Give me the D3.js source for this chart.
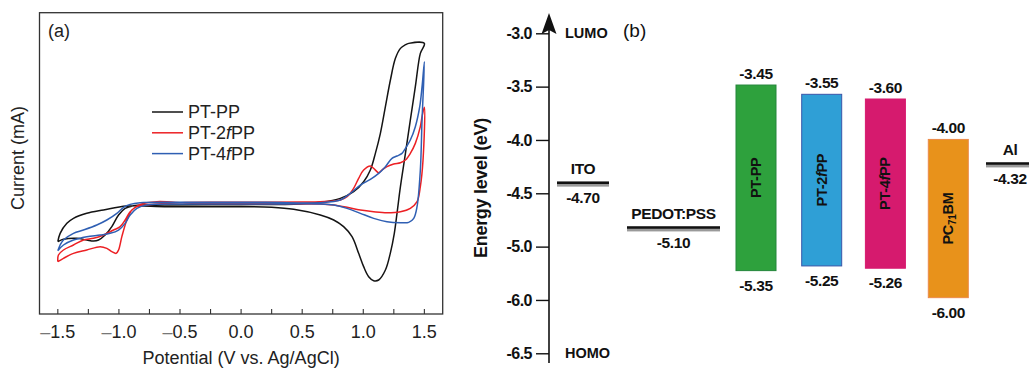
<!DOCTYPE html>
<html>
<head>
<meta charset="utf-8">
<script src="https://cdn.jsdelivr.net/npm/d3@7"></script>
<style>
  body { margin: 0; background: #fff; }
  svg { display: block; font-family: 'Liberation Sans', Arial, Helvetica, sans-serif; }
</style>
</head>
<body>
<svg id="chart" width="1029" height="369"></svg>
<script>
// ---------- panel (a): cyclic voltammograms, [potential (V), current (arb. mA)]
const seriesNames = ['PT-PP', 'PT-2fPP', 'PT-4fPP'];

const cvPTPP = [
  [-1.500, -0.525], [-1.481, -0.40], [-1.426, -0.25], [-1.372, -0.175], [-1.263, -0.10],
  [-1.126, -0.05], [-0.935, 0.01], [-0.600, 0.0], [0.000, 0.0], [0.250, -0.01],
  [0.430, -0.04], [0.648, -0.125], [0.758, -0.20], [0.839, -0.30], [0.908, -0.45],
  [0.962, -0.70], [1.003, -0.90], [1.044, -1.05], [1.085, -1.11], [1.126, -1.10],
  [1.181, -0.95], [1.221, -0.70], [1.254, -0.40], [1.276, -0.10], [1.304, 0.30],
  [1.345, 0.80], [1.385, 1.30], [1.426, 1.80], [1.467, 2.30], [1.500, 2.45],
  [1.372, 2.45], [1.345, 2.43], [1.304, 2.375], [1.263, 2.225], [1.222, 1.90],
  [1.181, 1.50], [1.140, 1.10], [1.099, 0.80], [1.058, 0.55], [1.003, 0.375],
  [0.921, 0.225], [0.812, 0.125], [0.648, 0.065], [0.485, 0.04], [0.000, 0.03],
  [-0.600, 0.025], [-0.771, 0.025], [-0.880, 0.015], [-0.949, -0.025], [-1.003, -0.125],
  [-1.058, -0.30], [-1.113, -0.425], [-1.167, -0.50], [-1.208, -0.515], [-1.263, -0.50],
  [-1.345, -0.475], [-1.454, -0.49], [-1.495, -0.52], [-1.500, -0.525]
];

const cvPT2fPP = [
  [-1.500, -0.825], [-1.495, -0.725], [-1.454, -0.65], [-1.372, -0.575], [-1.290, -0.50],
  [-1.208, -0.475], [-1.126, -0.425], [-1.044, -0.35], [-0.990, -0.30], [-0.949, -0.20],
  [-0.908, -0.075], [-0.853, 0.0], [-0.771, 0.025], [-0.500, 0.06], [0.000, 0.065],
  [0.500, 0.07], [0.648, 0.075], [0.812, 0.10], [0.867, 0.15], [0.921, 0.275],
  [0.962, 0.425], [1.003, 0.55], [1.058, 0.61], [1.085, 0.575], [1.126, 0.51],
  [1.153, 0.55], [1.194, 0.60], [1.249, 0.64], [1.304, 0.66], [1.345, 0.70],
  [1.385, 0.80], [1.426, 0.95], [1.467, 1.20], [1.481, 1.35], [1.500, 1.49],
  [1.489, 0.70], [1.467, 0.30], [1.440, 0.075], [1.385, -0.025], [1.304, -0.075],
  [1.194, -0.09], [1.085, -0.075], [0.976, -0.05], [0.867, -0.01], [0.758, 0.025],
  [0.648, 0.04], [0.200, 0.045], [-0.400, 0.05], [-0.689, 0.075], [-0.826, 0.035],
  [-0.894, -0.05], [-0.935, -0.20], [-0.976, -0.45], [-1.003, -0.65], [-1.022, -0.70],
  [-1.058, -0.675], [-1.099, -0.625], [-1.153, -0.60], [-1.263, -0.65], [-1.372, -0.70],
  [-1.454, -0.775], [-1.500, -0.825]
];

const cvPT4fPP = [
  [-1.500, -0.66], [-1.481, -0.575], [-1.454, -0.50], [-1.372, -0.40], [-1.290, -0.35],
  [-1.181, -0.275], [-1.099, -0.20], [-1.017, -0.10], [-0.962, -0.01], [-0.908, 0.035],
  [-0.826, 0.06], [-0.400, 0.065], [0.200, 0.065], [0.648, 0.06], [0.812, 0.10],
  [0.894, 0.20], [0.976, 0.325], [1.058, 0.41], [1.126, 0.50], [1.181, 0.60],
  [1.235, 0.725], [1.276, 0.76], [1.317, 0.80], [1.345, 0.875], [1.385, 1.00],
  [1.426, 1.20], [1.462, 1.50], [1.481, 1.80], [1.500, 2.175],
  [1.481, 1.30], [1.467, 0.55], [1.440, 0.0], [1.413, -0.175], [1.372, -0.235],
  [1.304, -0.24], [1.194, -0.225], [1.085, -0.175], [0.976, -0.10], [0.867, -0.025],
  [0.758, 0.025], [0.648, 0.04], [0.200, 0.04], [-0.400, 0.04], [-0.771, 0.025],
  [-0.853, -0.025], [-0.908, -0.125], [-0.949, -0.25], [-1.003, -0.35], [-1.072, -0.40],
  [-1.153, -0.425], [-1.263, -0.45], [-1.372, -0.50], [-1.454, -0.575], [-1.500, -0.66]
];

const potentialTicks = [-1.5, -1.25, -1.0, -0.75, -0.5, -0.25, 0, 0.25, 0.5, 0.75, 1.0, 1.25, 1.5];
const potentialLabels = [-1.5, -1.0, -0.5, 0.0, 0.5, 1.0, 1.5];

// ---------- panel (b): energy levels (eV)
const energyTicks = [-3.0, -3.5, -4.0, -4.5, -5.0, -6.0, -6.5];
const electrodes = ['ITO', 'PEDOT:PSS', 'Al'];
const electrodeLevel = [-4.40, -4.82, -4.22];          // drawn position on the axis
const electrodeLabel = ['-4.70', '-5.10', '-4.32'];
const materials = ['PT-PP', 'PT-2fPP', 'PT-4fPP', 'PC71BM'];
const lumoLevel = [-3.485, -3.572, -3.616, -3.995];   // drawn position on the axis
const homoLevel = [-5.45, -5.362, -5.405, -5.957];
const lumoLabel = ['-3.45', '-3.55', '-3.60', '-4.00'];
const homoLabel = ['-5.35', '-5.25', '-5.26', '-6.00'];

// ---------- styles / layout
const lineColors = { 'PT-PP': '#141414', 'PT-2fPP': '#ec2024', 'PT-4fPP': '#2f5fb3' };
const barFill = { 'PT-PP': '#2ea13d', 'PT-2fPP': '#2f9fd6', 'PT-4fPP': '#d61a6e', 'PC71BM': '#e8921b' };
const barStroke = { 'PT-PP': '#23863a', 'PT-2fPP': '#3a56a8', 'PT-4fPP': '#d61a6e', 'PC71BM': '#ec8a4a' };

const svg = d3.select('#chart');

// ================= panel (a)
const box = { left: 39.5, right: 442.7, top: 12.7, bottom: 314 };
const x = d3.scaleLinear().domain([-1.65, 1.65]).range([box.left, box.right]);
const y = d3.scaleLinear().domain([-1.61, 2.91]).range([box.bottom, box.top]);

const ga = svg.append('g');

ga.append('rect')
  .attr('x', box.left).attr('y', box.top)
  .attr('width', box.right - box.left).attr('height', box.bottom - box.top)
  .attr('fill', 'none').attr('stroke', '#333').attr('stroke-width', 1.3);

ga.selectAll('.tick-a')
  .data(potentialTicks)
  .enter().append('line')
  .attr('class', 'tick-a')
  .attr('x1', d => x(d)).attr('x2', d => x(d))
  .attr('y1', box.bottom).attr('y2', box.bottom - 5)
  .attr('stroke', '#333').attr('stroke-width', 1.1);

const tl = ga.selectAll('.tl-a')
  .data(potentialLabels)
  .enter().append('text')
  .attr('class', 'tl-a')
  .attr('x', d => x(d)).attr('y', 338)
  .attr('text-anchor', 'middle')
  .attr('font-size', 18).attr('fill', '#222');
tl.filter(d => d < 0).append('tspan').attr('fill', '#777').text('\u2013');
tl.append('tspan').text(d => Math.abs(d).toFixed(1));

ga.append('text')
  .attr('x', x(0)).attr('y', 364)
  .attr('text-anchor', 'middle').attr('font-size', 18).attr('fill', '#222')
  .text('Potential (V vs. Ag/AgCl)');

ga.append('text')
  .attr('transform', 'translate(24,158) rotate(-90)')
  .attr('text-anchor', 'middle').attr('font-size', 18).attr('fill', '#222')
  .text('Current (mA)');

ga.append('text')
  .attr('x', 48).attr('y', 37).attr('font-size', 18).attr('fill', '#222')
  .text('(a)');

const line = d3.line()
  .x(d => x(d[0])).y(d => y(d[1]))
  .curve(d3.curveCatmullRom.alpha(0.5));

const cvData = { 'PT-PP': cvPTPP, 'PT-2fPP': cvPT2fPP, 'PT-4fPP': cvPT4fPP };
seriesNames.forEach(name => {
  ga.append('path')
    .datum(cvData[name])
    .attr('d', line)
    .attr('fill', 'none')
    .attr('stroke', lineColors[name])
    .attr('stroke-width', 1.5)
    .attr('stroke-linejoin', 'round');
});

// legend
const legend = ga.append('g');
seriesNames.forEach((name, i) => {
  const ly = 112 + i * 20.8;
  legend.append('line')
    .attr('x1', 152).attr('x2', 183).attr('y1', ly).attr('y2', ly)
    .attr('stroke', lineColors[name]).attr('stroke-width', 1.5);
  const t = legend.append('text')
    .attr('x', 188).attr('y', ly).attr('dy', '0.35em')
    .attr('font-size', 18).attr('fill', '#222');
  if (name.includes('f')) {
    const parts = name.split('f');
    t.append('tspan').text(parts[0]);
    t.append('tspan').attr('font-style', 'italic').text('f');
    t.append('tspan').text(parts[1]);
  } else {
    t.text(name);
  }
});

// ================= panel (b)
const axisX = 549;
const yE = d3.scaleLinear()
  .domain(energyTicks)
  .range(energyTicks.map((d, i) => 33.3 + i * 53.33));
const xE = d3.scaleOrdinal()
  .domain(['ITO', 'PEDOT:PSS', 'PT-PP', 'PT-2fPP', 'PT-4fPP', 'PC71BM', 'Al'])
  .range([583, 673.5, 756, 821.7, 885.4, 948.3, 1010]);
const levelWidth = { 'ITO': 52, 'PEDOT:PSS': 93, 'Al': 48 };
const barW = 40;
const labelSize = 15.5;

const gb = svg.append('g');

gb.append('g')
  .attr('transform', `translate(${axisX},0)`)
  .call(d3.axisLeft(yE).tickValues(energyTicks).tickSize(13).tickPadding(4)
    .tickFormat(d => d.toFixed(1)))
  .call(g => g.select('.domain').remove())
  .call(g => g.selectAll('line').attr('stroke', '#111').attr('stroke-width', 1.4))
  .call(g => g.selectAll('text')
    .attr('font-size', 16).attr('font-weight', 'bold').attr('fill', '#111')
    .attr('font-family', "'Liberation Sans', Arial, sans-serif")
    .attr('letter-spacing', -0.5));

gb.append('line')
  .attr('x1', axisX).attr('x2', axisX).attr('y1', 28).attr('y2', 363)
  .attr('stroke', '#111').attr('stroke-width', 1.6);
gb.append('path')
  .attr('d', `M${axisX},13 L${axisX + 7.5},34 L${axisX},30 L${axisX - 7.5},34 Z`)
  .attr('fill', '#111');

gb.append('text')
  .attr('transform', `translate(487,188) rotate(-90)`)
  .attr('text-anchor', 'middle').attr('font-size', 18).attr('font-weight', 'bold')
  .attr('fill', '#111').attr('letter-spacing', -0.3)
  .text('Energy level (eV)');

gb.append('text').attr('x', 565).attr('y', yE(-3.0)).attr('dy', '0.35em')
  .attr('font-size', 14.5).attr('font-weight', 'bold').attr('fill', '#111').text('LUMO');
gb.append('text').attr('x', 565).attr('y', yE(-6.5)).attr('dy', '0.35em')
  .attr('font-size', 14.5).attr('font-weight', 'bold').attr('fill', '#111').text('HOMO');
gb.append('text').attr('x', 623).attr('y', 37)
  .attr('font-size', 19).attr('fill', '#111').text('(b)');

// electrode work-function lines
electrodes.forEach((name, i) => {
  const cx = xE(name), w = levelWidth[name], ly = yE(electrodeLevel[i]);
  gb.append('rect').attr('x', cx - w / 2).attr('y', ly + 1.2)
    .attr('width', w).attr('height', 2.8).attr('fill', '#9a9a9a');
  gb.append('rect').attr('x', cx - w / 2).attr('y', ly - 1.2)
    .attr('width', w).attr('height', 2.6).attr('fill', '#111');
  gb.append('text').attr('x', cx).attr('y', ly - 14).attr('dy', '0.35em')
    .attr('text-anchor', 'middle').attr('font-size', labelSize).attr('font-weight', 'bold')
    .attr('fill', '#111').attr('letter-spacing', -0.4).text(name);
  gb.append('text').attr('x', cx).attr('y', ly + 15).attr('dy', '0.35em')
    .attr('text-anchor', 'middle').attr('font-size', labelSize).attr('font-weight', 'bold')
    .attr('fill', '#111').attr('letter-spacing', -0.4).text(electrodeLabel[i]);
});

// material bars
materials.forEach((name, i) => {
  const cx = xE(name), top = yE(lumoLevel[i]), bot = yE(homoLevel[i]);
  gb.append('rect')
    .attr('x', cx - barW / 2).attr('y', top)
    .attr('width', barW).attr('height', bot - top)
    .attr('fill', barFill[name]).attr('stroke', barStroke[name]).attr('stroke-width', 1);
  gb.append('text').attr('x', cx).attr('y', top - 11.5).attr('dy', '0.35em')
    .attr('text-anchor', 'middle').attr('font-size', labelSize).attr('font-weight', 'bold')
    .attr('fill', '#111').attr('letter-spacing', -0.4).text(lumoLabel[i]);
  gb.append('text').attr('x', cx).attr('y', bot + 14.5).attr('dy', '0.35em')
    .attr('text-anchor', 'middle').attr('font-size', labelSize).attr('font-weight', 'bold')
    .attr('fill', '#111').attr('letter-spacing', -0.4).text(homoLabel[i]);

  const t = gb.append('text')
    .attr('transform', `translate(${cx},${(top + bot) / 2}) rotate(-90)`)
    .attr('text-anchor', 'middle').attr('dy', '0.35em')
    .attr('font-size', 14.5).attr('font-weight', 'bold').attr('fill', '#111')
    .attr('letter-spacing', -0.3);
  if (name === 'PC71BM') {
    t.append('tspan').text('PC');
    t.append('tspan').attr('font-size', 10).attr('baseline-shift', '-25%').text('71');
    t.append('tspan').text('BM');
  } else if (name.includes('f')) {
    const parts = name.split('f');
    t.append('tspan').text(parts[0]);
    t.append('tspan').attr('font-style', 'italic').text('f');
    t.append('tspan').text(parts[1]);
  } else {
    t.text(name);
  }
});
</script>
</body>
</html>
